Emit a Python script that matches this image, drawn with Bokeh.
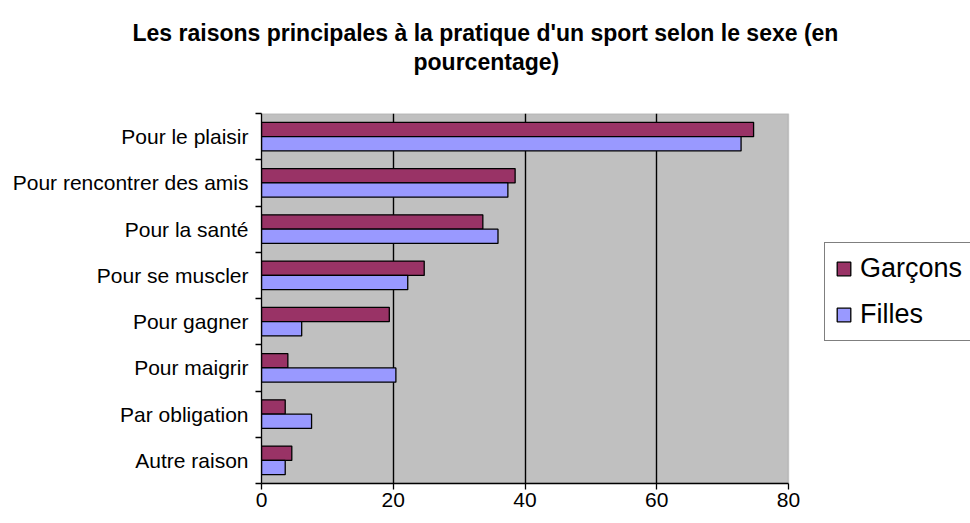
from bokeh.plotting import figure
from bokeh.models import (ColumnDataSource, FixedTicker, Legend, LegendItem, Title,
                          BoxAnnotation)
from bokeh.transform import dodge
from bokeh.embed import file_html
from bokeh.resources import INLINE

categories = ["Pour le plaisir", "Pour rencontrer des amis", "Pour la santé",
              "Pour se muscler", "Pour gagner", "Pour maigrir",
              "Par obligation", "Autre raison"]
garcons = [74.7, 38.5, 33.6, 24.7, 19.4, 4.0, 3.6, 4.6]
filles = [72.8, 37.4, 35.9, 22.2, 6.1, 20.4, 7.6, 3.6]
x_ticks = [0, 20, 40, 60, 80]

n = len(categories)
ypos = [n - 1 - i for i in range(n)]
src = ColumnDataSource(dict(y=ypos, cat=categories, g=garcons, f=filles))

FONT = "Liberation Sans"

# layout: the gray plotting box spans 527 px (0..80); the frame continues to the
# right edge so the legend (drawn inside the frame) is not clipped.
W, H = 970, 523
LEFT, TOP, BOTTOM = 261, 113, 40
BOX_W = 527
x_max = x_ticks[-1]
x_end = x_max * (W - LEFT) / BOX_W

p = figure(width=W, height=H, output_backend="svg", toolbar_location=None,
           x_range=(0, x_end), y_range=(-0.5, n - 0.5),
           min_border_left=LEFT, min_border_right=0,
           min_border_top=TOP, min_border_bottom=BOTTOM)

p.background_fill_color = "white"
p.border_fill_color = "white"
p.outline_line_color = None

plot_box = BoxAnnotation(left=0, right=x_max, bottom=-0.5, top=n - 0.5,
                         fill_color="#C0C0C0", fill_alpha=1.0,
                         line_color="#808080", line_width=1.5, level="image")
p.add_layout(plot_box)

rg = p.hbar(y=dodge("y", 0.155, range=p.y_range), right="g", left=0, height=0.31,
            source=src, fill_color="#993366", line_color="black", line_width=1.3)
rf = p.hbar(y=dodge("y", -0.155, range=p.y_range), right="f", left=0, height=0.31,
            source=src, fill_color="#9999FF", line_color="black", line_width=1.3)

# x axis
p.xaxis.ticker = FixedTicker(ticks=x_ticks)
p.xaxis.bounds = (0, x_max)
p.xaxis.axis_line_color = "black"
p.xaxis.axis_line_width = 1.3
p.xaxis.major_tick_line_color = "black"
p.xaxis.major_tick_line_width = 1.3
p.xaxis.major_tick_out = 6
p.xaxis.major_tick_in = 0
p.xaxis.minor_tick_line_color = None
p.xaxis.major_label_text_font = FONT
p.xaxis.major_label_text_font_size = "21px"
p.xaxis.major_label_text_color = "black"
p.xaxis.major_label_standoff = 3

# y axis: labels at centres, tick marks at boundaries
boundaries = [i - 0.5 for i in range(n + 1)]
p.yaxis.ticker = FixedTicker(ticks=ypos, minor_ticks=boundaries)
p.yaxis.major_label_overrides = {int(y): c for y, c in zip(ypos, categories)}
p.yaxis.axis_line_color = "black"
p.yaxis.axis_line_width = 1.3
p.yaxis.major_tick_line_color = None
p.yaxis.minor_tick_line_color = "black"
p.yaxis.minor_tick_line_width = 1.3
p.yaxis.minor_tick_out = 6
p.yaxis.minor_tick_in = 0
p.yaxis.major_label_text_font = FONT
p.yaxis.major_label_text_font_size = "21px"
p.yaxis.major_label_text_color = "black"
p.yaxis.major_label_standoff = 7

# grid (inner vertical lines only)
p.xgrid.ticker = FixedTicker(ticks=x_ticks[1:-1])
p.xgrid.grid_line_color = "black"
p.xgrid.grid_line_width = 1.4
p.xgrid.level = "underlay"
p.ygrid.grid_line_color = None

# titles (two lines) with a small spacer next to the frame
spacer = Title(text=" ", text_font_size="1px", standoff=35)
t2 = Title(text="pourcentage)", align="left", text_font=FONT,
           text_font_size="23px", text_font_style="bold", text_color="black",
           offset=152, standoff=1)
t1 = Title(text="Les raisons principales à la pratique d'un sport selon le sexe (en",
           align="left", text_font=FONT, text_font_size="23px",
           text_font_style="bold", text_color="black", offset=-129, standoff=1)
p.add_layout(spacer, "above")
p.add_layout(t2, "above")
p.add_layout(t1, "above")

legend = Legend(items=[LegendItem(label="Garçons", renderers=[rg]),
                       LegendItem(label="Filles", renderers=[rf])],
                location=(563, 142))
legend.label_text_font = FONT
legend.label_text_font_size = "27px"
legend.label_text_color = "black"
legend.glyph_width = 17
legend.glyph_height = 17
legend.label_height = 27
legend.spacing = 15
legend.padding = 10
legend.margin = 0
legend.label_standoff = 8
legend.border_line_color = "black"
legend.border_line_width = 1.5
legend.background_fill_color = "white"
legend.background_fill_alpha = 1.0
p.add_layout(legend, "center")

open("out.html", "w").write(file_html(p, INLINE))
